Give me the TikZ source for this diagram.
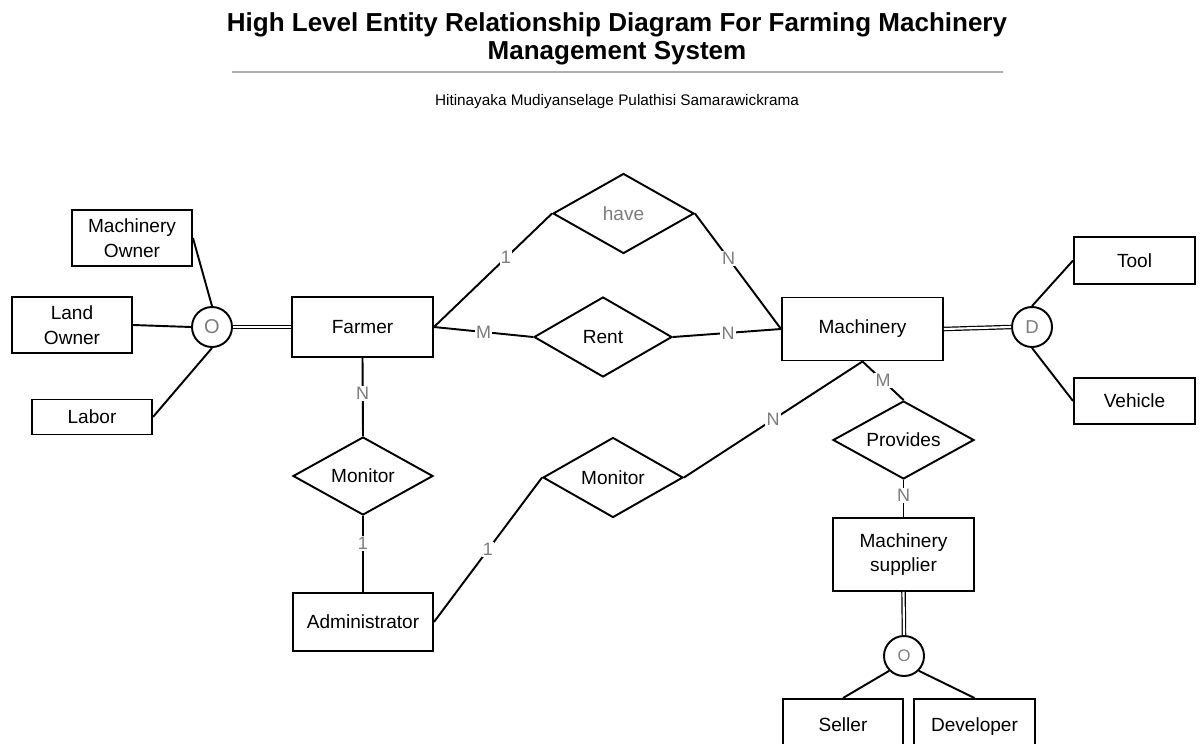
\documentclass[tikz,border=0pt]{standalone}
\usepackage{fontspec}
\setmainfont{Liberation Sans}
\usetikzlibrary{shapes.geometric}
\definecolor{lblgray}{RGB}{125,125,125}
\definecolor{rulegray}{RGB}{175,175,175}
\newcommand\entfont{\fontsize{14.3}{18.5}\selectfont}
\newcommand\cardfont{\fontsize{13.5}{15}\selectfont}
\newcommand\titlefont{\fontsize{19.5}{21}\selectfont\bfseries}
\newcommand\subfont{\fontsize{11.5}{13}\selectfont}
\begin{document}
\begin{tikzpicture}[x=0.75pt,y=-0.75pt,
  ent/.style={draw, line width=1.45pt, rectangle, inner sep=0pt, align=center, font=\entfont},
  rel/.style={draw, line width=1.45pt, diamond, aspect=1.8, inner sep=0pt, font=\entfont},
  spec/.style={draw, line width=1.45pt, circle, inner sep=0pt, minimum size=30pt, text=lblgray},
  conn/.style={line width=1.45pt},
  dbl/.style={double, line width=0.9pt, double distance=1.6pt},
  card/.style={fill=white, inner sep=1pt, text=lblgray, font=\cardfont}]
\useasboundingbox (0,0) rectangle (1200,743);

% title
\node[font=\titlefont, align=center] (title) at (617,39) {High Level Entity Relationship Diagram For Farming Machinery\\Management System};
\draw[rulegray, line width=1.2pt] (232,72) -- (1003,72);
\node[font=\subfont] (sub) at (617,102) {Hitinayaka Mudiyanselage Pulathisi Samarawickrama};

% entities
\node[ent, minimum width=90pt, minimum height=42pt] (mo) at (132,238) {Machinery\\Owner};
\node[ent, minimum width=90pt, minimum height=42pt] (lo) at (72,325) {Land\\Owner};
\node[ent, minimum width=90pt, minimum height=26.25pt] (lab) at (92,417) {Labor};
\node[spec, font=\fontsize{15}{16}\selectfont] (o1) at (212,327) {O};
\node[ent, minimum width=105.75pt, minimum height=45pt] (farmer) at (362.5,327) {Farmer};
\node[rel, text=lblgray, minimum width=105.75pt, minimum height=60pt] (have) at (623.5,213.5) {have};
\node[rel, minimum width=103.5pt, minimum height=60pt] (rent) at (603,337) {Rent};
\node[ent, minimum width=120.75pt, minimum height=47.25pt] (mach) at (862.5,329) {Machinery};
\node[spec, font=\fontsize{14}{15}\selectfont] (d) at (1032,327) {D};
\node[ent, minimum width=90.75pt, minimum height=35.25pt] (tool) at (1134.5,260.5) {Tool};
\node[ent, minimum width=90.75pt, minimum height=34.5pt] (veh) at (1134.5,401) {Vehicle};
\node[rel, minimum width=105pt, minimum height=58.5pt] (mon1) at (363,476) {Monitor};
\node[ent, minimum width=105pt, minimum height=43.5pt] (admin) at (363,622) {Administrator};
\node[rel, minimum width=105pt, minimum height=60pt] (mon2) at (613,477.5) {Monitor};
\node[rel, minimum width=105.75pt, minimum height=58.5pt] (prov) at (903.5,440) {Provides};
\node[ent, minimum width=105.75pt, minimum height=54.75pt] (sup) at (903.5,554.5) {Machinery\\supplier};
\node[spec, font=\fontsize{12.5}{13}\selectfont] (o2) at (904,656) {O};
\node[ent, anchor=north, minimum width=90pt, minimum height=39pt, text depth=0pt] (seller) at (843,698) {Seller};
\node[ent, anchor=north, minimum width=90.75pt, minimum height=39pt, text depth=0pt] (dev) at (974.5,698) {Developer};

% connectors
\draw[conn] (mo.east) -- (o1.north);
\draw[conn] (lo.east) -- (o1.west);
\draw[conn] (lab.east) -- (o1.south);
\draw[dbl] (o1.east) -- (farmer.west);
\draw[conn] (farmer.east) -- node[card, pos=0.61] {1} (have.west);
\draw[conn] (have.east) -- node[card, pos=0.39] {N} (mach.west);
\draw[conn] (farmer.east) -- node[card, pos=0.5] {M} (rent.west);
\draw[conn] (rent.east) -- node[card, pos=0.51] {N} (mach.west);
\draw[conn] (farmer.south) -- node[card, pos=0.45] {N} (mon1.north);
\draw[conn] (mon1.south) -- node[card, pos=0.36] {1} (admin.north);
\draw[conn] (admin.east) -- node[card, pos=0.5] {1} (mon2.west);
\draw[conn] (mon2.east) -- node[card, pos=0.5] {N} (mach.south);
\draw[conn] (mach.south) -- node[card, pos=0.5] {M} (prov.north);
\draw[conn] (prov.south) -- node[card, pos=0.41] {N} (sup.north);
\draw[dbl] (sup.south) -- (o2.north);
\draw[conn] (o2.225) -- (seller.north);
\draw[conn] (o2.-45) -- (dev.north);
\draw[dbl] (mach.east) -- (d.west);
\draw[conn] (d.north) -- (tool.west);
\draw[conn] (d.south) -- (veh.west);
\end{tikzpicture}
\end{document}
